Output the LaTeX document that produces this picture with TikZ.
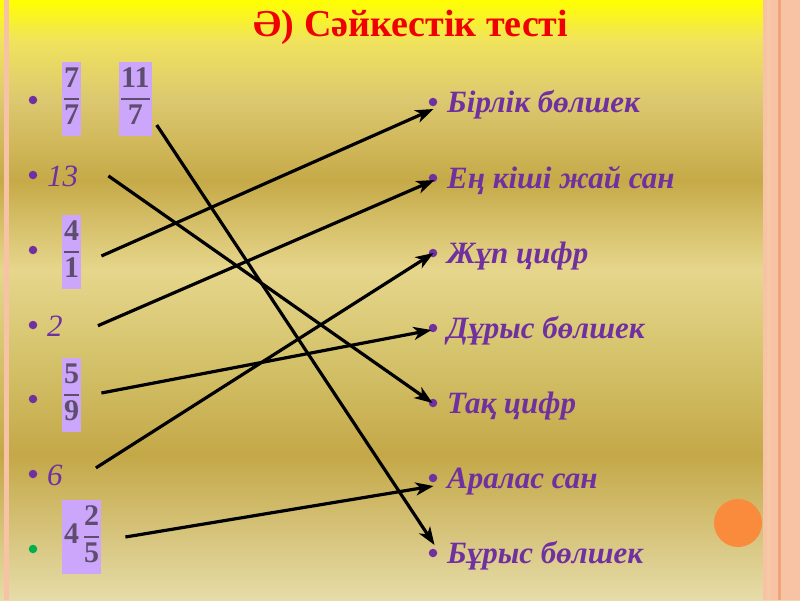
\documentclass[tikz,border=0pt]{standalone}
\usepackage{fontspec}
\setmainfont{Liberation Serif}
\usetikzlibrary{positioning,arrows.meta,calc}
\definecolor{itempurple}{HTML}{7030A0}
\definecolor{titlered}{HTML}{F00000}
\definecolor{fraclilac}{HTML}{CBA6FA}
\definecolor{fracgray}{HTML}{5E4D6E}
\definecolor{bulletgreen}{HTML}{00B050}
\definecolor{edgepink}{HTML}{F8C2A4}
\definecolor{edgeorange}{HTML}{F0A47C}
\definecolor{dotorange}{HTML}{FA8A3C}
\definecolor{goldA}{HTML}{FFFF00}
\definecolor{goldB}{HTML}{F0E35C}
\definecolor{goldC}{HTML}{DCC870}
\definecolor{goldD}{HTML}{C6AA48}
\definecolor{goldE}{HTML}{E6D68C}
\definecolor{goldF}{HTML}{D4C26A}
\definecolor{goldG}{HTML}{C4A848}
\definecolor{goldH}{HTML}{E6DCA8}
\tikzset{
    fracbox/.style={fill=fraclilac, text=fracgray, font=\fontsize{30}{32}\selectfont\bfseries, inner xsep=2pt, inner ysep=1pt, anchor=west},
    lefttext/.style={text=itempurple, font=\fontsize{31}{33}\selectfont\itshape, inner sep=0pt, anchor=base west},
    righttext/.style={text=itempurple, font=\fontsize{31}{33}\selectfont\bfseries\itshape, inner sep=0pt, anchor=base west},
    dot/.style={circle, fill=itempurple, inner sep=0pt, minimum size=8.5pt},
    link/.style={draw, line width=3.2pt, -{Stealth[length=18pt,width=13pt,inset=5pt]}}
}
\newcommand{\frc}[2]{{\setlength{\arrayrulewidth}{2pt}\renewcommand{\arraystretch}{1.1}\begin{tabular}{@{}c@{}}#1\\\hline#2\end{tabular}}}

\begin{document}
\begin{tikzpicture}[x=1pt,y=-1pt]
    \useasboundingbox (0,0) rectangle (800,600);
    % Background bands
    \shade [top color=goldA, bottom color=goldB] (0,0) rectangle (800,40);
    \shade [top color=goldB, bottom color=goldC] (0,40) rectangle (800,100);
    \shade [top color=goldC, bottom color=goldD] (0,100) rectangle (800,180);
    \shade [top color=goldD, bottom color=goldE] (0,180) rectangle (800,270);
    \shade [top color=goldE, bottom color=goldF] (0,270) rectangle (800,360);
    \shade [top color=goldF, bottom color=goldG] (0,360) rectangle (800,455);
    \shade [top color=goldG, bottom color=goldH] (0,455) rectangle (800,600);
    % Edges
    \fill [edgepink] (4,0) rectangle (9,600);
    \fill [edgepink] (763,0) rectangle (767,600);
    \fill [edgepink!70!goldH] (767,0) rectangle (771,600);
    \fill [edgepink] (771,0) rectangle (800,600);
    \fill [edgeorange] (778,0) rectangle (781,600);
    \fill [dotorange] (738,523) circle (24);

    % Title
    \node [text=titlered, font=\fontsize{38}{40}\selectfont\bfseries] (title) at (411,27) {Ә) Сәйкестік тесті};

    % Left column
    \node [dot] (d1) at (33,100) {};
    \node [fracbox] (f77) at (62,99) {\frc{7}{7}};
    \node [fracbox] (f117) at (119,99) {\frc{11}{7}};
    \node [dot] (d2) at (33,175) {};
    \node [lefttext] (n13) at (47,186) {13};
    \node [dot] (d3) at (33,250) {};
    \node [fracbox] (f41) at (62,252) {\frc{4}{1}};
    \node [dot] (d4) at (33,325) {};
    \node [lefttext] (n2) at (47,336) {2};
    \node [dot] (d5) at (33,399) {};
    \node [fracbox] (f59) at (62,395) {\frc{5}{9}};
    \node [dot] (d6) at (33,474) {};
    \node [lefttext] (n6) at (47,485) {6};
    \node [dot, fill=bulletgreen] (d7) at (33,549) {};
    \node [fracbox] (f425) at (62,537) {4\,\frc{2}{5}};

    % Right column
    \node [dot] (birlik) at (433,102) {};
    \node [righttext] at (447,112) {Бірлік бөлшек};
    \node [dot] (enkishi) at (433,178) {};
    \node [righttext] at (447,188) {Ең кіші жай сан};
    \node [dot] (zhup) at (433,253) {};
    \node [righttext] at (447,263) {Жұп цифр};
    \node [dot] (durys) at (433,328) {};
    \node [righttext] at (447,338) {Дұрыс бөлшек};
    \node [dot] (taq) at (433,403) {};
    \node [righttext] at (447,413) {Тақ цифр};
    \node [dot] (aralas) at (433,478) {};
    \node [righttext] at (447,488) {Аралас сан};
    \node [dot] (burys) at (433,553) {};
    \node [righttext] at (447,563) {Бұрыс бөлшек};

    % Matching arrows
    \path [link] ([xshift=5,yshift=-26]f117.east) -- ([xshift=6,yshift=8]burys.west);
    \path [link] ([xshift=30]n13.east) -- ([xshift=4]taq.west);
    \path [link] ([xshift=20,yshift=-4]f41.east) -- ([xshift=5,yshift=-7]birlik.west);
    \path [link] ([xshift=35]n2.east) -- ([xshift=6,yshift=-2]enkishi.west);
    \path [link] ([xshift=20,yshift=2]f59.east) -- ([xshift=3,yshift=-2]durys.west);
    \path [link] ([xshift=33,yshift=7]n6.east) -- ([xshift=5]zhup.west);
    \path [link] ([xshift=24]f425.east) -- ([xshift=5,yshift=-8]aralas.west);
\end{tikzpicture}
\end{document}
